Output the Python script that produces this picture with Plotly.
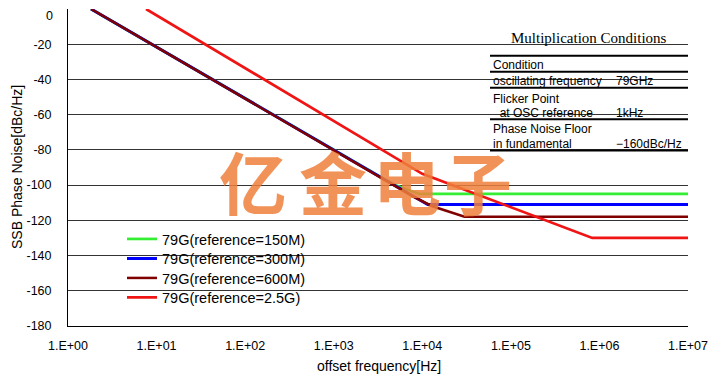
import plotly.graph_objects as go

# ---------------- data ----------------
freq_150M = [1.82, 4.9e3, 9.3e3, 1e7]
pn_150M = [0, -100, -105, -105]

freq_300M = [1.82, 7.9e3, 1.15e4, 1e7]
pn_300M = [0, -106.5, -111, -111]

freq_600M = [1.82, 7.9e3, 1.3e4, 3.0e4, 1e7]
pn_600M = [0, -106.5, -112, -118, -118]

freq_2G5 = [7.6, 1.0e4, 8.3e5, 1e7]
pn_2G5 = [0, -93.6, -130, -130]

series_names = ["79G(reference=150M)", "79G(reference=300M)",
                "79G(reference=600M)", "79G(reference=2.5G)"]
series_colors = ["#33ee33", "#0000ff", "#800000", "#f01414"]
series_widths = [2.7, 3.0, 2.5, 2.7]

x_tickvals = [1, 10, 100, 1e3, 1e4, 1e5, 1e6, 1e7]
x_ticktext = ["1.E+00", "1.E+01", "1.E+02", "1.E+03", "1.E+04", "1.E+05", "1.E+06", "1.E+07"]
y_tickvals = [0, -20, -40, -60, -80, -100, -120, -140, -160, -180]
y_ticktext = ["0", "-20", "-40", "-60", "-80", "-100", "-120", "-140", "-160", "-180"]

table_rows = [
    ("Condition", ""),
    ("oscillating frequency", "79GHz"),
    ("Flicker Point", ""),
    ("\u00a0\u00a0at OSC reference", "1kHz"),
    ("Phase Noise Floor", ""),
    ("in fundamental", "\u2212160dBc/Hz"),
]
watermark_chars = ["亿", "金", "电", "子"]

# ---------------- geometry (page pixels; the page body adds an 8px margin) ----------------
OFF = 8
FIG_W, FIG_H = 719 - OFF, 377 - OFF
L, R, T, B = 68, 688, 9, 326          # plot area in page pixels


def px(x):
    return (x - L) / (R - L)


def py(y):
    return (B - y) / (B - T)


fig = go.Figure()
all_x = [freq_150M, freq_300M, freq_600M, freq_2G5]
all_y = [pn_150M, pn_300M, pn_600M, pn_2G5]
legend_ids = ["legend", "legend2", "legend3", "legend4"]
for xs, ys, name, col, w, lg in zip(all_x, all_y, series_names, series_colors,
                                    series_widths, legend_ids):
    fig.add_trace(go.Scatter(x=xs, y=ys, mode="lines", name=name, legend=lg,
                             line=dict(color=col, width=w)))

SANS = "Liberation Sans, Arial, sans-serif"

legend_y = [239, 258.5, 278, 297.5]
legend_common = dict(xanchor="left", yanchor="middle", bgcolor="rgba(0,0,0,0)",
                     borderwidth=0, itemwidth=30,
                     font=dict(family=SANS, size=14.5, color="black"))
legend_layout = {}
for lg, yy in zip(legend_ids, legend_y):
    legend_layout[lg] = dict(x=px(122), y=py(yy), **legend_common)

# the "0" label sits at the very top edge; it is drawn as a note just inside the page
y_ticktext_axis = [t if v != 0 else "" for v, t in zip(y_tickvals, y_ticktext)]

fig.update_layout(
    width=FIG_W, height=FIG_H,
    margin=dict(l=L - OFF, r=FIG_W - (R - OFF), t=T - OFF, b=FIG_H - (B - OFF), pad=0,
                autoexpand=False),
    paper_bgcolor="white", plot_bgcolor="white",
    font=dict(family=SANS, size=12, color="black"),
    showlegend=True,
    xaxis=dict(type="log", range=[0, 7], showgrid=False, zeroline=False, automargin=False,
               showline=True, linecolor="black", linewidth=1,
               ticks="", tickvals=x_tickvals, ticktext=x_ticktext,
               ticklabelstandoff=8, tickfont=dict(size=12.5)),
    yaxis=dict(range=[-180, 0], showgrid=True, gridcolor="#333333", gridwidth=1,
               zeroline=False, showline=True, linecolor="black", linewidth=1,
               automargin=False,
               ticks="", tickvals=y_tickvals, ticktext=y_ticktext_axis,
               ticklabelstandoff=13, tickfont=dict(size=12.5)),
    **legend_layout,
)

fig.add_annotation(text=y_ticktext[0], xref="paper", yref="paper", x=px(55), y=py(16),
                   showarrow=False, xanchor="right", yanchor="middle",
                   font=dict(family=SANS, size=12.5, color="black"))

# white panels behind the table and the legend (they hide the grid)
fig.add_shape(type="rect", xref="paper", yref="paper", layer="between",
              x0=px(488), x1=px(692), y0=py(155), y1=py(20),
              fillcolor="white", line=dict(width=0))
fig.add_shape(type="rect", xref="paper", yref="paper", layer="between",
              x0=px(120), x1=px(318), y0=py(306), y1=py(228),
              fillcolor="white", line=dict(width=0))

# table rules
for yy in [55.7, 71.7, 87.7, 119.3, 150.5]:
    fig.add_shape(type="line", xref="paper", yref="paper", layer="above",
                  x0=px(490), x1=px(688), y0=py(yy), y1=py(yy),
                  line=dict(color="black", width=2))

fig.add_annotation(text="Multiplication Conditions", xref="paper", yref="paper",
                   x=px(589), y=py(38), showarrow=False, xanchor="center", yanchor="middle",
                   font=dict(family="Liberation Serif, Times New Roman, serif", size=15, color="black"))

row_y = [64.5, 80.5, 99, 112.7, 129.5, 144]
for (label, value), yy in zip(table_rows, row_y):
    fig.add_annotation(text=label, xref="paper", yref="paper", x=px(491), y=py(yy),
                       showarrow=False, xanchor="left", yanchor="middle",
                       font=dict(family=SANS, size=12, color="black"))
    if value:
        fig.add_annotation(text=value, xref="paper", yref="paper", x=px(614), y=py(yy),
                           showarrow=False, xanchor="left", yanchor="middle",
                           font=dict(family=SANS, size=12, color="black"))

# axis titles
fig.add_annotation(text="offset frequency[Hz]", xref="paper", yref="paper",
                   x=px(379), y=py(366), showarrow=False, xanchor="center", yanchor="middle",
                   font=dict(family=SANS, size=14, color="black"))
fig.add_annotation(text="SSB Phase Noise[dBc/Hz]", xref="paper", yref="paper",
                   x=px(17), y=py(167), showarrow=False, textangle=-90,
                   xanchor="center", yanchor="middle",
                   font=dict(family=SANS, size=14, color="black"))

# watermark
for ch, cx in zip(watermark_chars, [253, 333, 407, 478]):
    fig.add_annotation(text=ch, xref="paper", yref="paper", x=px(cx), y=py(180),
                       showarrow=False, xanchor="center", yanchor="middle",
                       font=dict(family="Noto Sans CJK SC", size=68, weight=700,
                                 color="rgba(238,128,60,0.85)"))

fig.write_html("out.html")
